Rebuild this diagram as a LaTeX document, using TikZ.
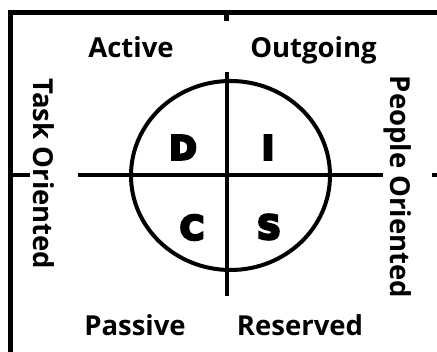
\documentclass[tikz,border=0pt]{standalone}
\usepackage{fontspec}
\setmainfont{Open Sans}
\newfontfamily\heavyfont[FakeBold=8]{DejaVu Sans}
\usetikzlibrary{positioning}

\begin{document}
\begin{tikzpicture}[
  x=1pt, y=1pt,
  % Line styles
  frame/.style={line width=5pt},
  axis/.style={line width=4pt},
  % Text styles
  label/.style={font=\bfseries\fontsize{27.5}{30}\selectfont, inner sep=0pt},
  sidelabel/.style={label, rotate=-90},
  letter/.style={font=\heavyfont\bfseries\fontsize{33}{36}\selectfont, inner sep=0pt}
]
\useasboundingbox (0,0) rectangle (437,352);

%% ── Frame ────────────────────────────────────────────────────
\draw[frame] (10.5,0) |- (437,339.5);
\draw[frame] (226,339.5) -- (226,331);

%% ── Circle and axes ──────────────────────────────────────────
\draw[axis] (230.5,176.5) ellipse [x radius=99.5, y radius=94.5];
\draw[axis] (10.5,176.5) -- (30,176.5);
\draw[axis] (78,176.5) -- (383,176.5);
\draw[axis] (432,176.5) -- (437,176.5);
\draw[axis] (226.5,280) -- (226.5,56);

%% ── Quadrant letters ─────────────────────────────────────────
\node[letter] (D) at (183,204.5) {D};
\node[letter] (I) at (268,204.5) {I};
\node[letter] (C) at (192,124.5) {C};
\node[letter] (S) at (269,125)   {S};

%% ── Outer labels ─────────────────────────────────────────────
\node[label, anchor=base] (active)   at (131,294) {Active};
\node[label, anchor=base] (outgoing) at (313.5,294) {Outgoing};
\node[label, anchor=base] (passive)  at (135,16) {Passive};
\node[label, anchor=base] (reserved) at (300,16) {Reserved};
\node[sidelabel] (task)   at (44,178)  {Task Oriented};
\node[sidelabel] (people) at (398,165) {People Oriented};

\end{tikzpicture}
\end{document}
